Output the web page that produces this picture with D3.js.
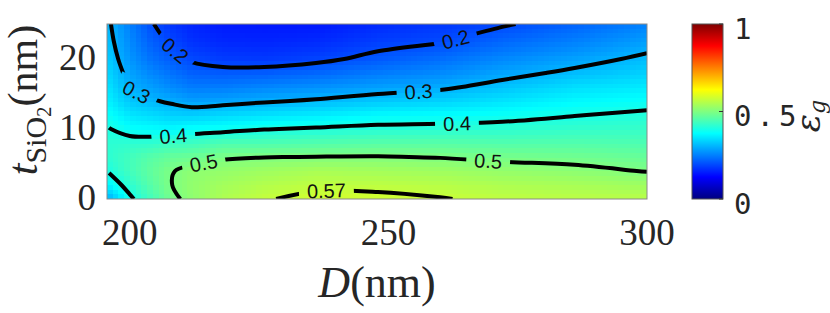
<!DOCTYPE html>
<html>
<head>
<meta charset="utf-8">
<script src="https://cdn.jsdelivr.net/npm/d3@7"></script>
<style>
  html, body { margin: 0; padding: 0; background: #fff; }
  svg { display: block; }
</style>
</head>
<body>
<div id="chart"></div>
<script>
// grid: columns are D (nm), rows are t_SiO2 (nm)
const D = [196, 200, 204, 208, 212, 218, 226, 236, 248, 260, 272, 286, 300];
const tSiO2 = [0, 2, 4, 6, 8, 10, 12, 14, 16, 18, 20, 22.5, 25];
// eps_g, one row per t value (bottom to top), columns follow D
const epsG = [
  [0.300, 0.390, 0.440, 0.488, 0.515, 0.545, 0.567, 0.580, 0.580, 0.572, 0.562, 0.558, 0.555], // t = 0
  [0.370, 0.420, 0.460, 0.499, 0.518, 0.535, 0.550, 0.562, 0.560, 0.555, 0.545, 0.540, 0.530], // 2
  [0.405, 0.440, 0.470, 0.497, 0.513, 0.520, 0.530, 0.540, 0.535, 0.530, 0.520, 0.512, 0.498], // 4
  [0.420, 0.440, 0.460, 0.475, 0.480, 0.495, 0.499, 0.501, 0.502, 0.498, 0.490, 0.485, 0.475], // 6
  [0.418, 0.420, 0.420, 0.430, 0.435, 0.450, 0.450, 0.455, 0.460, 0.460, 0.455, 0.455, 0.450], // 8
  [0.402, 0.380, 0.375, 0.370, 0.380, 0.385, 0.398, 0.405, 0.413, 0.415, 0.418, 0.425, 0.428], // 10
  [0.380, 0.350, 0.340, 0.328, 0.325, 0.335, 0.345, 0.355, 0.370, 0.375, 0.383, 0.398, 0.410], // 12
  [0.360, 0.320, 0.305, 0.293, 0.280, 0.285, 0.295, 0.305, 0.320, 0.330, 0.348, 0.370, 0.380], // 14
  [0.345, 0.298, 0.280, 0.260, 0.245, 0.245, 0.255, 0.265, 0.280, 0.292, 0.315, 0.342, 0.355], // 16
  [0.332, 0.285, 0.258, 0.237, 0.218, 0.213, 0.215, 0.225, 0.245, 0.260, 0.285, 0.310, 0.330], // 18
  [0.322, 0.272, 0.238, 0.215, 0.195, 0.183, 0.180, 0.190, 0.212, 0.232, 0.258, 0.282, 0.310], // 20
  [0.312, 0.260, 0.220, 0.193, 0.172, 0.162, 0.160, 0.165, 0.185, 0.197, 0.225, 0.250, 0.280], // 22.5
  [0.305, 0.250, 0.205, 0.175, 0.160, 0.150, 0.148, 0.148, 0.165, 0.178, 0.195, 0.222, 0.252]  // 25
];
const levels = [0.2, 0.3, 0.4, 0.5, 0.57];
const xTicks = [200, 250, 300];
const yTicks = [0, 10, 20];
const cTicks = [0, 0.5, 1];
// rough spot (level, D, t) of each inline contour label
const labelAt = [
  [0.2, 208.4, 20.9], [0.2, 263.1, 22.3],
  [0.3, 201.0, 14.9], [0.3, 255.9, 15.2],
  [0.4, 208.4, 8.9], [0.4, 263.3, 10.6],
  [0.5, 214.4, 4.9], [0.5, 269.3, 5.6],
  [0.57, 238.1, 1.1]
];

const width = 830, height = 313;
const plot = {left: 107, top: 24, right: 647, bottom: 199};
const cbar = {left: 692, right: 723};

const svg = d3.select("#chart").append("svg")
    .attr("width", width)
    .attr("height", height);

const x = d3.scaleLinear().domain([195.6, 300]).range([plot.left, plot.right]);
const y = d3.scaleLinear().domain([0, 25]).range([plot.bottom, plot.top]);
const cy = d3.scaleLinear().domain([0, 1]).range([plot.bottom, plot.top]);

// matlab jet
function jet(v) {
  v = Math.max(0, Math.min(1, v));
  const c = k => Math.round(255 * Math.max(0, Math.min(1, k)));
  return "rgb(" + c(1.5 - Math.abs(4 * v - 3)) + "," + c(1.5 - Math.abs(4 * v - 2)) + "," + c(1.5 - Math.abs(4 * v - 1)) + ")";
}

const nx = D.length, ny = tSiO2.length;
const dToI = d3.scaleLinear().domain(D).range(d3.range(nx)).clamp(true);
const tToJ = d3.scaleLinear().domain(tSiO2).range(d3.range(ny)).clamp(true);
const iToD = d3.scaleLinear().domain(d3.range(nx)).range(D);
const jToT = d3.scaleLinear().domain(d3.range(ny)).range(tSiO2);

function valueAt(d, t) {
  const gx = dToI(d), gy = tToJ(t);
  const i0 = Math.min(nx - 2, Math.floor(gx)), j0 = Math.min(ny - 2, Math.floor(gy));
  const u = gx - i0, v = gy - j0;
  const r0 = epsG[j0], r1 = epsG[j0 + 1];
  return (r0[i0] * (1 - u) + r0[i0 + 1] * u) * (1 - v) + (r1[i0] * (1 - u) + r1[i0 + 1] * u) * v;
}

// heat map, drawn blocky like the original pcolor
const pw = plot.right - plot.left, ph = plot.bottom - plot.top;
const cnv = document.createElement("canvas");
cnv.width = pw; cnv.height = ph;
const ctx = cnv.getContext("2d");
const nCx = 94, nCy = 38;
const cw = pw / nCx, ch = ph / nCy;
for (let i = 0; i < nCx; i++) {
  for (let j = 0; j < nCy; j++) {
    const d = x.invert(plot.left + (i + 0.5) * cw);
    const t = y.invert(plot.bottom - (j + 0.5) * ch);
    ctx.fillStyle = jet(valueAt(d, t));
    const x0 = Math.round(i * cw), x1 = Math.round((i + 1) * cw);
    const y1 = ph - Math.round(j * ch), y0 = ph - Math.round((j + 1) * ch);
    ctx.fillRect(x0, y0, x1 - x0, y1 - y0);
  }
}
svg.append("image")
    .attr("x", plot.left).attr("y", plot.top)
    .attr("width", pw).attr("height", ph)
    .attr("preserveAspectRatio", "none")
    .attr("href", cnv.toDataURL());

const defs = svg.append("defs");
defs.append("clipPath").attr("id", "plotClip")
  .append("rect")
    .attr("x", plot.left).attr("y", plot.top)
    .attr("width", pw).attr("height", ph);
const mask = defs.append("mask").attr("id", "gapMask")
    .attr("maskUnits", "userSpaceOnUse")
    .attr("x", 0).attr("y", 0).attr("width", width).attr("height", height);
mask.append("rect").attr("width", width).attr("height", height).attr("fill", "white");

// contour lines
const contours = d3.contours().size([nx, ny]).thresholds(levels)(epsG.flat());

// turn a closed ring from d3.contours into open runs, dropping the parts along the grid edge
function lineRuns(ring) {
  const pts = ring.map(p => [
    Math.max(0, Math.min(nx - 1, p[0] - 0.5)),
    Math.max(0, Math.min(ny - 1, p[1] - 0.5))
  ]);
  const same = (a, b) => a[0] === b[0] && a[1] === b[1];
  const n = same(pts[0], pts[pts.length - 1]) ? pts.length - 1 : pts.length;
  const onEdge = (a, b) =>
    (a[0] === 0 && b[0] === 0) || (a[0] === nx - 1 && b[0] === nx - 1) ||
    (a[1] === 0 && b[1] === 0) || (a[1] === ny - 1 && b[1] === ny - 1);
  let start = 0;
  for (let i = 0; i < n; i++) {
    if (onEdge(pts[i], pts[(i + 1) % n])) { start = i + 1; break; }
  }
  const runs = [];
  let cur = [pts[start % n]];
  for (let k = 0; k < n; k++) {
    const a = pts[(start + k) % n], b = pts[(start + k + 1) % n];
    if (onEdge(a, b)) {
      if (cur.length > 1) runs.push(cur);
      cur = [b];
    } else {
      cur.push(b);
    }
  }
  if (cur.length > 1) runs.push(cur);
  return runs;
}

const lineGen = d3.line().curve(d3.curveCatmullRom.alpha(0.5));
const gLines = svg.append("g").attr("clip-path", "url(#plotClip)")
  .append("g").attr("mask", "url(#gapMask)");
const paths = [];
contours.forEach(c => {
  c.coordinates.forEach(poly => poly.forEach(ring => {
    lineRuns(ring).forEach(run => {
      const pix = run.map(p => [x(iToD(p[0])), y(jToT(p[1]))]);
      const p = gLines.append("path")
          .attr("d", lineGen(pix))
          .attr("fill", "none")
          .attr("stroke", "#000")
          .attr("stroke-width", 4)
          .attr("stroke-linejoin", "round")
          .attr("stroke-linecap", "butt");
      paths.push({level: c.value, node: p.node()});
    });
  }));
});

// inline labels, the line is cut under each one
const gLabels = svg.append("g");
labelAt.forEach(([lev, d, t]) => {
  const tx = x(d), ty = y(t);
  let best = null;
  paths.filter(p => Math.abs(p.level - lev) < 1e-9).forEach(p => {
    const L = p.node.getTotalLength();
    for (let s = 0; s <= L; s += 1) {
      const q = p.node.getPointAtLength(s);
      const dd = (q.x - tx) * (q.x - tx) + (q.y - ty) * (q.y - ty);
      if (!best || dd < best.dd) best = {dd: dd, s: s, node: p.node, L: L};
    }
  });
  if (!best) return;
  const q = best.node.getPointAtLength(best.s);
  const a = best.node.getPointAtLength(Math.max(0, best.s - 8));
  const b = best.node.getPointAtLength(Math.min(best.L, best.s + 8));
  let ang = Math.atan2(b.y - a.y, b.x - a.x) * 180 / Math.PI;
  if (ang > 90) ang -= 180;
  if (ang < -90) ang += 180;
  const tr = "translate(" + q.x + "," + q.y + ") rotate(" + ang + ")";
  const txt = gLabels.append("text")
      .attr("transform", tr)
      .attr("text-anchor", "middle")
      .attr("dy", "0.36em")
      .style("font-family", "'Liberation Sans', Arial, sans-serif")
      .style("font-size", "20px")
      .attr("fill", "#111")
      .text(String(lev));
  const w = txt.node().getComputedTextLength();
  mask.append("rect")
      .attr("transform", tr)
      .attr("x", -w / 2 - 8).attr("y", -12)
      .attr("width", w + 16).attr("height", 24)
      .attr("fill", "black");
});

// plot frame
svg.append("rect")
    .attr("x", plot.left).attr("y", plot.top)
    .attr("width", pw).attr("height", ph)
    .attr("fill", "none")
    .attr("stroke", "#8a8a8a")
    .attr("stroke-width", 1);

const serif = "'Liberation Serif', 'Times New Roman', serif";

// tick labels
svg.append("g").selectAll("text")
  .data(xTicks)
  .enter().append("text")
    .attr("x", d => x(d))
    .attr("y", 245)
    .attr("text-anchor", "middle")
    .style("font-family", serif)
    .style("font-size", "37px")
    .attr("fill", "#262626")
    .text(d => d);

svg.append("g").selectAll("text")
  .data(yTicks)
  .enter().append("text")
    .attr("x", 96)
    .attr("y", d => y(d) + 11)
    .attr("text-anchor", "end")
    .style("font-family", serif)
    .style("font-size", "37px")
    .attr("fill", "#262626")
    .text(d => d);

// axis titles
const xl = svg.append("text")
    .attr("x", (plot.left + plot.right) / 2)
    .attr("y", 297)
    .attr("text-anchor", "middle")
    .style("font-family", serif)
    .style("font-size", "44px")
    .attr("fill", "#262626");
xl.append("tspan").style("font-style", "italic").text("D");
xl.append("tspan").text("(nm)");

const yl = svg.append("text")
    .attr("transform", "translate(37,100) rotate(-90)")
    .attr("text-anchor", "middle")
    .style("font-family", serif)
    .style("font-size", "42px")
    .attr("fill", "#262626");
yl.append("tspan").style("font-style", "italic").text("t");
yl.append("tspan").attr("dy", 9).style("font-size", "30px").text("SiO");
yl.append("tspan").attr("dy", 5).style("font-size", "21px").text("2");
yl.append("tspan").attr("dy", -14).text("(nm)");

// colorbar
const grad = defs.append("linearGradient").attr("id", "jetGrad")
    .attr("x1", 0).attr("y1", 1).attr("x2", 0).attr("y2", 0);
d3.range(0, 65).forEach(k => {
  grad.append("stop").attr("offset", k / 64).attr("stop-color", jet(k / 64));
});
svg.append("rect")
    .attr("x", cbar.left).attr("y", cy(1))
    .attr("width", cbar.right - cbar.left).attr("height", cy(0) - cy(1))
    .attr("fill", "url(#jetGrad)")
    .attr("stroke", "#555")
    .attr("stroke-width", 1);
svg.append("g").selectAll("line")
  .data(cTicks)
  .enter().append("line")
    .attr("x1", cbar.right - 4).attr("x2", cbar.right)
    .attr("y1", d => cy(d)).attr("y2", d => cy(d))
    .attr("stroke", "#333");
svg.append("g").selectAll("text")
  .data(cTicks)
  .enter().append("text")
    .attr("x", 734)
    .attr("y", d => cy(d) + 14.5)
    .style("font-family", "'DejaVu Sans Mono', monospace")
    .style("font-size", "29px")
    .style("letter-spacing", "5px")
    .attr("fill", "#262626")
    .text(d => d);

const cl = svg.append("text")
    .attr("transform", "translate(820,116) rotate(-90)")
    .attr("text-anchor", "middle")
    .style("font-family", "'DejaVu Serif', serif")
    .style("font-size", "34px")
    .attr("fill", "#262626");
cl.append("tspan").style("font-style", "italic").text("ε");
cl.append("tspan").attr("dy", 5).style("font-size", "22px").style("font-style", "italic").text("g");
</script>
</body>
</html>
